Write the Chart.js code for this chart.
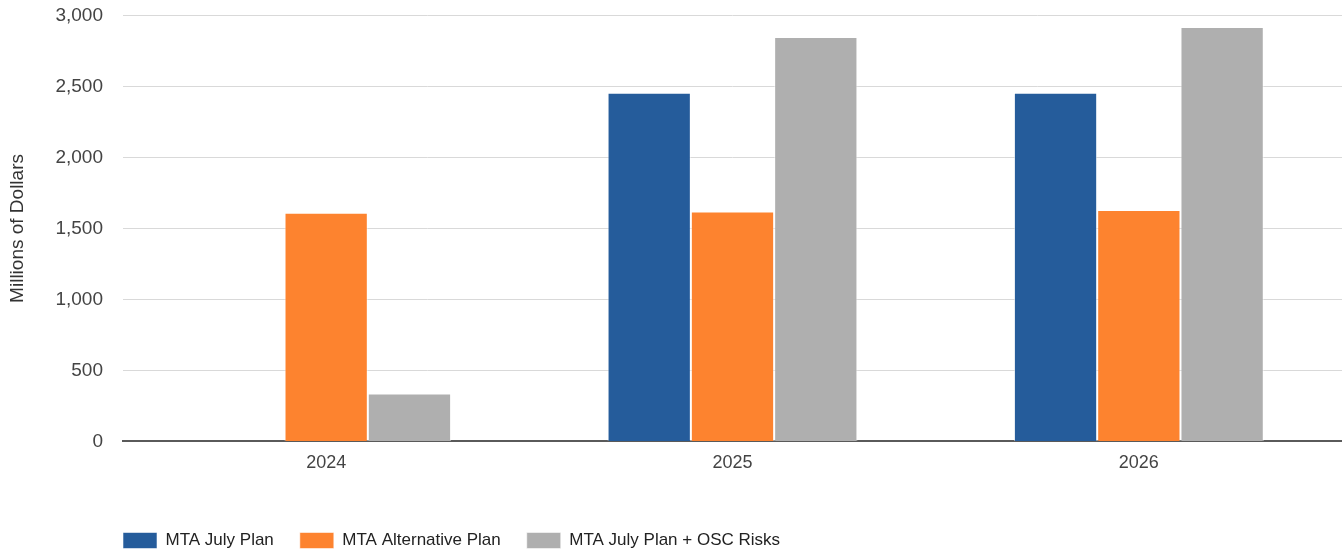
<!DOCTYPE html>
<html>
<head>
<meta charset="utf-8">
<script src="https://cdn.jsdelivr.net/npm/chart.js@4"></script>
<style>
  html, body { margin: 0; padding: 0; background: #fff; }
  #wrap { width: 1342px; height: 551px; }
</style>
</head>
<body>
<div id="wrap"><canvas id="mtaChart"></canvas></div>
<script>
// data (millions of dollars)
const years = ["2024", "2025", "2026"];
const julyPlan = [null, 2455, 2455];
const alternativePlan = [1611, 1619, 1630];
const julyPlanOscRisks = [338, 2849, 2919];
const seriesNames = ["MTA July Plan", "MTA Alternative Plan", "MTA July Plan + OSC Risks"];

Chart.defaults.font.family = "'Liberation Sans', Arial, sans-serif";
Chart.defaults.color = "#444";

// move the legend so it lines up with the left edge of the plot
const legendShift = {
  id: "legendShift",
  beforeDraw(chart) {
    const lg = chart.legend;
    lg.left = chart.chartArea.left - 26;
    lg.top += 8;
  }
};

const barStyle = { borderWidth: 1, borderColor: "rgba(255,255,255,0.55)", borderSkipped: "bottom" };

new Chart(document.getElementById("mtaChart"), {
  type: "bar",
  data: {
    labels: years,
    datasets: [
      { label: seriesNames[0], data: julyPlan, backgroundColor: "#255c9b", ...barStyle },
      { label: seriesNames[1], data: alternativePlan, backgroundColor: "#fd832f", ...barStyle },
      { label: seriesNames[2], data: julyPlanOscRisks, backgroundColor: "#afafaf", ...barStyle }
    ]
  },
  plugins: [legendShift],
  options: {
    responsive: true,
    maintainAspectRatio: false,
    animation: false,
    layout: { padding: { top: 15.5, right: 0, left: 0, bottom: 0 } },
    datasets: { bar: { categoryPercentage: 0.615, barPercentage: 1 } },
    scales: {
      x: {
        grid: { display: false, drawTicks: false },
        border: { color: "#5a5a5a", width: 2 },
        ticks: { font: { size: 18 }, padding: 11, color: "#444" },
        afterFit: (scale) => { scale.height += 13; }
      },
      y: {
        min: 0,
        max: 3000,
        ticks: { stepSize: 500, font: { size: 19 }, padding: 0, color: "#444" },
        grid: { color: "#d9d9d9", lineWidth: 1, drawTicks: true, tickLength: 20, tickColor: "rgba(0,0,0,0)" },
        border: { display: false },
        title: { display: true, text: "Millions of Dollars", font: { size: 19 }, color: "#333", padding: { top: 6, bottom: 0 } },
        afterFit: (scale) => { scale.width = 123; }
      }
    },
    plugins: {
      tooltip: { enabled: false },
      legend: {
        position: "bottom",
        align: "start",
        labels: { boxWidth: 34, boxHeight: 16, padding: 26, font: { size: 17 }, color: "#222" }
      }
    }
  }
});
</script>
</body>
</html>
